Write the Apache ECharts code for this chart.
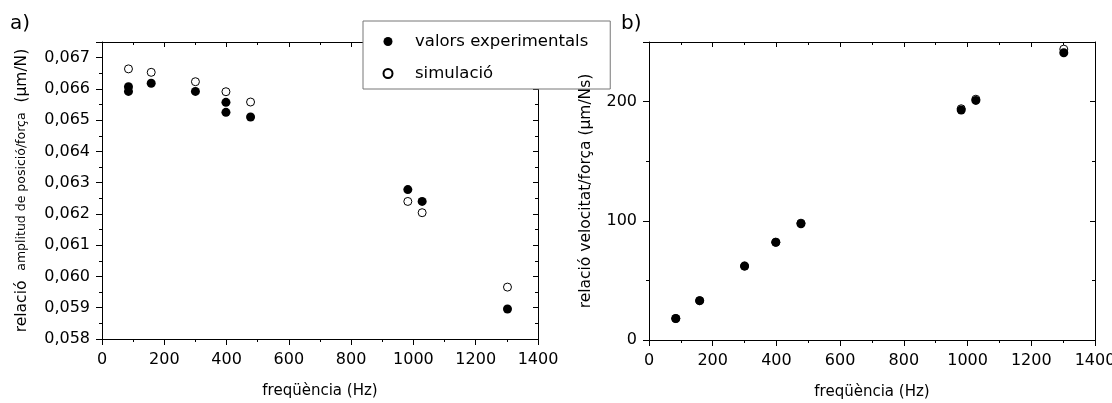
<!DOCTYPE html>
<html>
<head>
<meta charset="utf-8">
<script src="https://cdn.jsdelivr.net/npm/echarts@6.0.0/dist/echarts.min.js"></script>
<style>
  html, body { margin: 0; padding: 0; background: #fff; }
  #chart { width: 1112px; height: 403px; }
</style>
</head>
<body>
<div id="chart"></div>
<script>
// a) amplitude / force ratio
const ampFreqExp = [85, 85, 158, 300, 398, 398, 477, 982, 1028, 1302];
const ampExp = [0.06607, 0.06592, 0.06618, 0.06592, 0.06557, 0.06525, 0.06510, 0.06278, 0.06240, 0.05896];
const ampFreqSim = [85, 158, 300, 398, 477, 982, 1028, 1302];
const ampSim = [0.06664, 0.06653, 0.06623, 0.06591, 0.06558, 0.06240, 0.06204, 0.05966];

// b) velocity / force ratio
const velFreq = [84, 159, 300, 398, 477, 980, 1026, 1302];
const velExp = [18, 33, 62, 82, 97.5, 193, 201, 241];
const velSim = [18, 33, 62, 82, 98, 194, 202, 244];

// axis ranges [min, max, interval]
const freqRange = [0, 1400, 200];
const ampRange = [0.058, 0.0675, 0.001];
const velRange = [0, 250, 100];

const names = ['valors experimentals', 'simulació'];
const font = 'DejaVu Sans';

const pairs = (xs, ys) => xs.map((x, i) => [x, ys[i]]);

function xAxis(grid, mirror) {
  return {
    type: 'value', gridIndex: grid, position: mirror ? 'top' : 'bottom',
    min: freqRange[0], max: freqRange[1], interval: freqRange[2],
    axisLine: { show: true, onZero: false, lineStyle: { color: '#000', width: 1 } },
    axisTick: { show: true, inside: mirror, length: mirror ? 5 : 6, lineStyle: { color: '#000' } },
    minorTick: { show: true, splitNumber: 2, length: 3, lineStyle: { color: '#000' } },
    splitLine: { show: false },
    axisLabel: { show: !mirror, margin: 13, fontSize: 16, fontFamily: font, color: '#000',
      formatter: v => String(v) },
    name: mirror ? '' : 'freqüència (Hz)',
    nameLocation: 'middle', nameGap: 45,
    nameTextStyle: { fontSize: 15, fontFamily: font, color: '#000' }
  };
}

function yAxis(grid, mirror, range, fmt, name) {
  return {
    type: 'value', gridIndex: grid, position: mirror ? 'right' : 'left',
    z: grid === 1 && !mirror ? 6 : 0,
    min: range[0], max: range[1], interval: range[2],
    axisLine: { show: true, onZero: false, lineStyle: { color: '#000', width: 1 } },
    axisTick: { show: true, inside: mirror, length: mirror ? 5 : 6, lineStyle: { color: '#000' } },
    minorTick: { show: true, splitNumber: 2, length: 3, lineStyle: { color: '#000' } },
    splitLine: { show: false },
    axisLabel: { show: !mirror, margin: 12, fontSize: 16, fontFamily: font, color: '#000', formatter: fmt },
    name: mirror ? '' : name,
    nameLocation: 'middle', nameRotate: 90,
    nameGap: grid === 0 ? 72 : 55,
    nameTextStyle: {
      fontSize: 15.5, fontFamily: font, color: '#000',
      rich: {
        b: { fontSize: 15.5, fontFamily: font, color: '#000' },
        s: { fontSize: 12.5, fontFamily: font, color: '#000' }
      }
    }
  };
}

const ampFmt = v => {
  const k = v / ampRange[2];
  if (Math.abs(k - Math.round(k)) > 1e-6) return '';
  return (Math.round(k) * ampRange[2]).toFixed(3).replace('.', ',');
};
const velFmt = v => (v % velRange[2] === 0 ? String(v) : '');

const filled = { color: '#000', opacity: 1 };
const open = { color: '#fff', borderColor: '#000', borderWidth: 1, opacity: 1 };

const chart = echarts.init(document.getElementById('chart'), null, { renderer: 'canvas' });
chart.setOption({
  animation: false,
  backgroundColor: '#fff',
  grid: [
    { left: 102, top: 42, width: 436, height: 297, outerBoundsMode: 'none', containLabel: false },
    { left: 649, top: 42, width: 446, height: 298, outerBoundsMode: 'none', containLabel: false }
  ],
  xAxis: [xAxis(0, false), xAxis(0, true), xAxis(1, false), xAxis(1, true)],
  yAxis: [
    yAxis(0, false, ampRange, ampFmt, '{b|relació}  {s|amplitud de posició/força}  {b|(µm/N)}'),
    yAxis(0, true, ampRange, ampFmt, ''),
    yAxis(1, false, velRange, velFmt, 'relació velocitat/força (µm/Ns)'),
    yAxis(1, true, velRange, velFmt, '')
  ],
  legend: {
    data: [{ name: names[0], icon: 'circle' }, { name: names[1], icon: 'circle' }],
    orient: 'vertical', left: 363, top: 21, z: 4,
    padding: [12, 22, 7, 19.5],
    itemWidth: 44, itemHeight: 9, itemGap: 15,
    backgroundColor: '#fff', borderColor: '#777', borderWidth: 1,
    textStyle: { fontSize: 16.5, fontFamily: font, color: '#000', lineHeight: 16 }
  },
  graphic: [
    { type: 'text', left: 10, top: 14, style: { text: 'a)', font: '20px "DejaVu Sans"', fill: '#000' } },
    { type: 'text', left: 621, top: 14, style: { text: 'b)', font: '20px "DejaVu Sans"', fill: '#000' } }
  ],
  series: [
    { name: names[1], type: 'scatter', xAxisIndex: 0, yAxisIndex: 0, symbolSize: 8,
      itemStyle: open, data: pairs(ampFreqSim, ampSim) },
    { name: names[0], type: 'scatter', xAxisIndex: 0, yAxisIndex: 0, symbolSize: 9,
      itemStyle: filled, data: pairs(ampFreqExp, ampExp) },
    { name: names[1], type: 'scatter', xAxisIndex: 2, yAxisIndex: 2, symbolSize: 8,
      itemStyle: open, data: pairs(velFreq, velSim) },
    { name: names[0], type: 'scatter', xAxisIndex: 2, yAxisIndex: 2, symbolSize: 9,
      itemStyle: filled, data: pairs(velFreq, velExp) }
  ]
});
</script>
</body>
</html>
